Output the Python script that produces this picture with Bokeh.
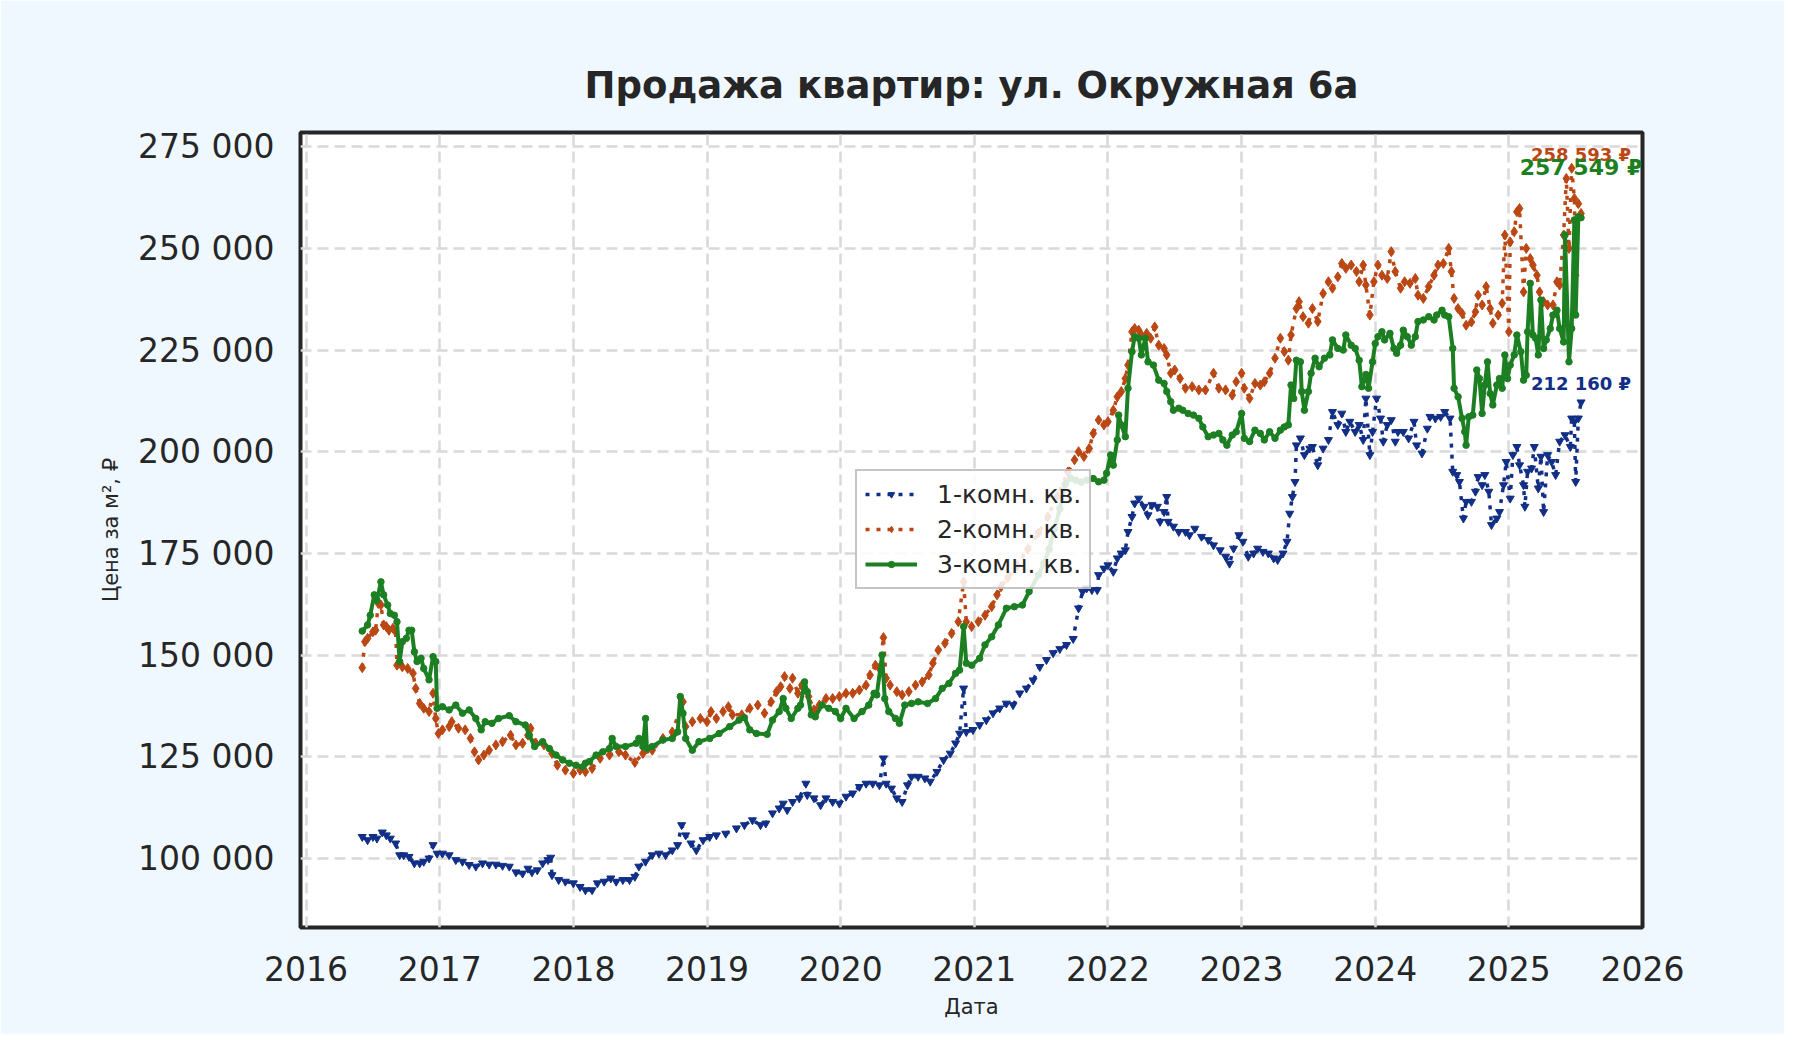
from bokeh.embed import file_html
from bokeh.models import FixedTicker, Label, Range1d
from bokeh.plotting import figure
from bokeh.resources import INLINE

# --- data (fractional year, price per m2, RUB) ---
one_room_year = [
    2016.42, 2016.46, 2016.50, 2016.53, 2016.57, 2016.60, 2016.63, 2016.67, 2016.70, 2016.73,
    2016.77, 2016.81, 2016.85, 2016.88, 2016.92, 2016.95, 2016.98, 2017.02, 2017.07, 2017.12,
    2017.17, 2017.22, 2017.27, 2017.32, 2017.37, 2017.42, 2017.47, 2017.52, 2017.57, 2017.62,
    2017.66, 2017.69, 2017.73, 2017.77, 2017.81, 2017.83, 2017.84, 2017.89, 2017.94, 2018.00,
    2018.05, 2018.09, 2018.14, 2018.18, 2018.23, 2018.28, 2018.32, 2018.37, 2018.42, 2018.46,
    2018.49, 2018.54, 2018.59, 2018.64, 2018.69, 2018.74, 2018.78, 2018.81, 2018.84, 2018.88,
    2018.92, 2018.97, 2019.02, 2019.07, 2019.14, 2019.22, 2019.28, 2019.34, 2019.40, 2019.44,
    2019.49, 2019.54, 2019.57, 2019.60, 2019.64, 2019.69, 2019.74, 2019.75, 2019.80, 2019.85,
    2019.89, 2019.94, 2019.99, 2020.04, 2020.09, 2020.14, 2020.19, 2020.24, 2020.29, 2020.32,
    2020.34, 2020.38, 2020.42, 2020.46, 2020.50, 2020.53, 2020.58, 2020.63, 2020.67, 2020.72,
    2020.77, 2020.82, 2020.86, 2020.89, 2020.92, 2020.94, 2020.99, 2021.04, 2021.09, 2021.14,
    2021.19, 2021.24, 2021.29, 2021.34, 2021.39, 2021.44, 2021.49, 2021.54, 2021.59, 2021.64,
    2021.69, 2021.74, 2021.78, 2021.81, 2021.84, 2021.88, 2021.92, 2021.93, 2021.97, 2022.00,
    2022.04, 2022.07, 2022.10, 2022.13, 2022.15, 2022.18, 2022.20, 2022.23, 2022.27, 2022.30,
    2022.33, 2022.37, 2022.39, 2022.42, 2022.44, 2022.45, 2022.49, 2022.53, 2022.58, 2022.61,
    2022.65, 2022.70, 2022.75, 2022.79, 2022.84, 2022.88, 2022.91, 2022.94, 2022.98, 2023.01,
    2023.05, 2023.09, 2023.12, 2023.16, 2023.20, 2023.24, 2023.27, 2023.31, 2023.34, 2023.36,
    2023.38, 2023.40, 2023.41, 2023.44, 2023.47, 2023.51, 2023.53, 2023.57, 2023.61, 2023.65,
    2023.68, 2023.72, 2023.75, 2023.78, 2023.81, 2023.85, 2023.88, 2023.91, 2023.93, 2023.96,
    2023.98, 2024.01, 2024.04, 2024.06, 2024.09, 2024.12, 2024.15, 2024.17, 2024.21, 2024.25,
    2024.29, 2024.31, 2024.35, 2024.39, 2024.41, 2024.45, 2024.49, 2024.52, 2024.56, 2024.58,
    2024.61, 2024.63, 2024.66, 2024.68, 2024.72, 2024.75, 2024.77, 2024.80, 2024.82, 2024.85,
    2024.87, 2024.91, 2024.93, 2024.96, 2024.98, 2025.01, 2025.03, 2025.06, 2025.08, 2025.11,
    2025.12, 2025.14, 2025.17, 2025.19, 2025.22, 2025.24, 2025.26, 2025.29, 2025.32, 2025.35,
    2025.38, 2025.42, 2025.46, 2025.47, 2025.49, 2025.50, 2025.52, 2025.54,
]
one_room_price = [
    105300, 104500, 105300, 104900, 106400, 105700, 104900, 103700, 100800, 100800,
    100400, 98800, 98800, 99200, 100000, 103300, 101200, 101200, 100800, 99600,
    99200, 98400, 98000, 98800, 98500, 98500, 98200, 98000, 96600, 96300,
    97500, 96600, 97100, 98800, 99600, 100200, 95900, 94700, 94300, 93900,
    93000, 92200, 92200, 93900, 94300, 95100, 94300, 94700, 94700, 95500,
    98000, 99200, 100800, 101200, 100800, 102000, 103300, 108200, 105700, 103700,
    102000, 104500, 105300, 105700, 106100, 107400, 108200, 109400, 108200, 108600,
    111100, 112300, 113500, 111900, 113900, 114800, 118400, 115600, 114800, 113100,
    114800, 113900, 113500, 115200, 116000, 117600, 118400, 118400, 118000, 124600,
    118400, 117200, 114800, 113900, 118000, 120100, 120100, 119700, 118900, 121300,
    124200, 125800, 128300, 130700, 141800, 131100, 131600, 132800, 134000, 135700,
    136900, 138100, 137700, 140600, 141800, 143800, 147100, 148800, 150500, 151500,
    152500, 154000, 161500, 165600, 166400, 166000, 166000, 169700, 171300, 172100,
    170500, 173800, 175000, 175800, 180300, 184000, 187300, 188500, 186500, 184400,
    186900, 186500, 182800, 185200, 188900, 182800, 181600, 180300, 180300, 179500,
    181100, 179100, 178300, 177000, 175800, 174200, 172500, 176200, 179500, 177900,
    174200, 175000, 176200, 175400, 175000, 173800, 173400, 175000, 177900, 184800,
    188900, 192600, 201600, 203300, 199200, 200800, 201200, 196700, 200800, 202900,
    209800, 206600, 209400, 204900, 207400, 204900, 206600, 202900, 213100, 199200,
    204900, 213100, 208200, 202500, 206600, 207800, 202500, 204900, 204900, 203300,
    207400, 201600, 199600, 205700, 208600, 208200, 208600, 209800, 208200, 195100,
    194300, 192600, 183600, 187700, 187700, 190200, 193800, 191800, 194300, 190200,
    182000, 183600, 185200, 191800, 197500, 188500, 199200, 201200, 196700, 191800,
    186500, 195100, 195900, 201200, 191000, 198800, 185200, 199200, 197500, 194300,
    202500, 204100, 201200, 208200, 207400, 192600, 208200, 212160,
]

two_room_year = [
    2016.42, 2016.44, 2016.46, 2016.50, 2016.52, 2016.54, 2016.56, 2016.58, 2016.60, 2016.62,
    2016.65, 2016.67, 2016.68, 2016.72, 2016.76, 2016.80, 2016.82, 2016.85, 2016.88, 2016.92,
    2016.95, 2016.97, 2016.99, 2017.02, 2017.07, 2017.09, 2017.14, 2017.19, 2017.23, 2017.26,
    2017.29, 2017.33, 2017.37, 2017.42, 2017.47, 2017.53, 2017.57, 2017.62, 2017.66, 2017.68,
    2017.72, 2017.78, 2017.84, 2017.88, 2017.94, 2018.00, 2018.05, 2018.09, 2018.14, 2018.20,
    2018.27, 2018.34, 2018.39, 2018.46, 2018.52, 2018.59, 2018.67, 2018.74, 2018.82, 2018.84,
    2018.89, 2018.95, 2019.00, 2019.03, 2019.07, 2019.12, 2019.16, 2019.19, 2019.26, 2019.32,
    2019.38, 2019.43, 2019.48, 2019.52, 2019.55, 2019.58, 2019.62, 2019.64, 2019.68, 2019.71,
    2019.76, 2019.80, 2019.84, 2019.89, 2019.94, 2019.99, 2020.04, 2020.09, 2020.14, 2020.19,
    2020.22, 2020.26, 2020.29, 2020.32, 2020.34, 2020.37, 2020.42, 2020.46, 2020.51, 2020.56,
    2020.61, 2020.66, 2020.69, 2020.73, 2020.78, 2020.83, 2020.88, 2020.92, 2020.94, 2020.98,
    2021.03, 2021.08, 2021.13, 2021.17, 2021.20, 2021.25, 2021.32, 2021.40, 2021.48, 2021.55,
    2021.62, 2021.70, 2021.75, 2021.78, 2021.82, 2021.86, 2021.89, 2021.93, 2021.97, 2022.00,
    2022.04, 2022.07, 2022.10, 2022.13, 2022.15, 2022.18, 2022.20, 2022.23, 2022.25, 2022.29,
    2022.32, 2022.35, 2022.38, 2022.42, 2022.44, 2022.47, 2022.50, 2022.54, 2022.58, 2022.63,
    2022.68, 2022.73, 2022.79, 2022.83, 2022.88, 2022.93, 2022.96, 2023.00, 2023.02, 2023.06,
    2023.10, 2023.14, 2023.17, 2023.21, 2023.25, 2023.29, 2023.32, 2023.35, 2023.37, 2023.41,
    2023.43, 2023.46, 2023.50, 2023.53, 2023.57, 2023.61, 2023.65, 2023.68, 2023.72, 2023.75,
    2023.78, 2023.82, 2023.86, 2023.88, 2023.91, 2023.93, 2023.96, 2023.99, 2024.02, 2024.05,
    2024.09, 2024.12, 2024.15, 2024.19, 2024.22, 2024.26, 2024.30, 2024.32, 2024.36, 2024.40,
    2024.44, 2024.47, 2024.51, 2024.55, 2024.57, 2024.59, 2024.62, 2024.65, 2024.68, 2024.72,
    2024.75, 2024.77, 2024.80, 2024.83, 2024.86, 2024.88, 2024.92, 2024.95, 2024.97, 2025.00,
    2025.01, 2025.04, 2025.06, 2025.08, 2025.11, 2025.13, 2025.16, 2025.18, 2025.21, 2025.23,
    2025.26, 2025.29, 2025.33, 2025.36, 2025.38, 2025.41, 2025.43, 2025.45, 2025.47, 2025.49,
    2025.50, 2025.52, 2025.54,
]
two_room_price = [
    146900, 153300, 154100, 155700, 156100, 162700, 162300, 157400, 157000, 156100,
    156600, 155700, 147500, 147100, 146700, 145500, 141800, 138100, 136900, 136100,
    140600, 134400, 130700, 131600, 132400, 133600, 132000, 131600, 129500, 126200,
    124200, 125400, 126600, 127900, 128700, 130300, 127900, 128300, 130300, 132000,
    128300, 127900, 125800, 122900, 121700, 120900, 121700, 121300, 122100, 124600,
    125400, 126200, 125400, 123600, 125800, 126600, 129500, 131100, 138500, 132400,
    133600, 134400, 133600, 136100, 134400, 136100, 137300, 135300, 135300, 136900,
    137700, 135700, 138500, 141000, 142200, 144700, 141800, 144300, 140600, 142600,
    139800, 136500, 137700, 139300, 139300, 139800, 140600, 140600, 141400, 142600,
    145100, 147500, 146700, 154300, 144300, 142600, 141000, 140200, 141000, 142600,
    143400, 145100, 148000, 151200, 152900, 155300, 158200, 168000, 158200, 157000,
    158200, 159800, 161900, 164800, 166800, 169000, 172000, 176000, 180000, 184000,
    189000, 195000, 198000, 200000, 198800, 200800, 204500, 207800, 206600, 207400,
    210200, 213500, 214800, 218000, 221300, 229500, 230300, 229900, 228700, 229100,
    227900, 230700, 226200, 225400, 223800, 219300, 220100, 218000, 215600, 216000,
    215200, 215200, 219300, 215600, 215200, 213900, 217200, 219300, 215600, 213100,
    216800, 216400, 217200, 219300, 223000, 227900, 224600, 222500, 228700, 235200,
    236900, 233200, 231600, 235200, 232000, 238900, 241800, 240200, 243000, 246300,
    245100, 245900, 244300, 241800, 245900, 241000, 233600, 241800, 245900, 243400,
    242600, 249200, 244300, 240200, 241800, 241400, 242600, 238500, 237700, 240600,
    243400, 245900, 246300, 250000, 244300, 237700, 235200, 234000, 231100, 231900,
    234400, 238500, 236100, 240600, 235200, 231600, 233600, 236500, 253300, 229500,
    251600, 254100, 259000, 259800, 239300, 250000, 247500, 245900, 243400, 239300,
    236900, 236100, 236100, 241800, 241000, 253300, 267200, 250000, 269700, 262300,
    243400, 261000, 258593,
]

three_room_year = [
    2016.42, 2016.46, 2016.48, 2016.51, 2016.53, 2016.56, 2016.58, 2016.61, 2016.63, 2016.66,
    2016.68, 2016.70, 2016.72, 2016.75, 2016.77, 2016.79, 2016.81, 2016.83, 2016.86, 2016.88,
    2016.92, 2016.95, 2016.97, 2016.98, 2017.02, 2017.07, 2017.12, 2017.17, 2017.22, 2017.27,
    2017.31, 2017.34, 2017.39, 2017.44, 2017.52, 2017.57, 2017.64, 2017.67, 2017.71, 2017.77,
    2017.82, 2017.87, 2017.92, 2017.97, 2018.02, 2018.07, 2018.09, 2018.12, 2018.17, 2018.22,
    2018.27, 2018.29, 2018.32, 2018.39, 2018.47, 2018.49, 2018.52, 2018.54, 2018.55, 2018.59,
    2018.67, 2018.74, 2018.78, 2018.80, 2018.82, 2018.84, 2018.89, 2018.94, 2019.02, 2019.09,
    2019.17, 2019.24, 2019.28, 2019.32, 2019.37, 2019.45, 2019.49, 2019.54, 2019.57, 2019.59,
    2019.63, 2019.68, 2019.70, 2019.73, 2019.75, 2019.78, 2019.81, 2019.86, 2019.91, 2019.96,
    2020.00, 2020.04, 2020.10, 2020.16, 2020.21, 2020.25, 2020.27, 2020.31, 2020.33, 2020.36,
    2020.41, 2020.44, 2020.48, 2020.53, 2020.58, 2020.65, 2020.71, 2020.76, 2020.81, 2020.86,
    2020.89, 2020.92, 2020.94, 2020.98, 2021.04, 2021.08, 2021.13, 2021.18, 2021.24, 2021.30,
    2021.36, 2021.41, 2021.48, 2021.52, 2021.56, 2021.60, 2021.64, 2021.68, 2021.72, 2021.76,
    2021.80, 2021.84, 2021.89, 2021.93, 2021.97, 2021.99, 2022.02, 2022.04, 2022.07, 2022.08,
    2022.10, 2022.13, 2022.15, 2022.18, 2022.20, 2022.23, 2022.25, 2022.28, 2022.30, 2022.34,
    2022.38, 2022.42, 2022.44, 2022.47, 2022.49, 2022.53, 2022.56, 2022.60, 2022.64, 2022.68,
    2022.71, 2022.75, 2022.79, 2022.83, 2022.86, 2022.89, 2022.93, 2022.96, 2023.00, 2023.02,
    2023.06, 2023.10, 2023.14, 2023.17, 2023.21, 2023.25, 2023.29, 2023.32, 2023.35, 2023.37,
    2023.39, 2023.41, 2023.44, 2023.45, 2023.47, 2023.50, 2023.52, 2023.55, 2023.58, 2023.62,
    2023.66, 2023.68, 2023.72, 2023.76, 2023.78, 2023.82, 2023.85, 2023.88, 2023.90, 2023.93,
    2023.95, 2023.98, 2024.00, 2024.02, 2024.05, 2024.07, 2024.11, 2024.14, 2024.16, 2024.19,
    2024.21, 2024.24, 2024.27, 2024.30, 2024.32, 2024.36, 2024.40, 2024.44, 2024.46, 2024.50,
    2024.52, 2024.55, 2024.58, 2024.59, 2024.62, 2024.65, 2024.67, 2024.68, 2024.70, 2024.73,
    2024.76, 2024.78, 2024.80, 2024.82, 2024.84, 2024.86, 2024.88, 2024.91, 2024.93, 2024.95,
    2024.97, 2024.99, 2025.01, 2025.04, 2025.06, 2025.09, 2025.11, 2025.13, 2025.14, 2025.16,
    2025.18, 2025.20, 2025.22, 2025.24, 2025.26, 2025.28, 2025.31, 2025.33, 2025.36, 2025.38,
    2025.41, 2025.42, 2025.45, 2025.47, 2025.49, 2025.50, 2025.52, 2025.54,
]
three_room_price = [
    155900, 157400, 159800, 164800, 163500, 168000, 164800, 162300, 160200, 159800,
    158200, 148400, 153300, 154100, 156100, 156100, 150800, 148400, 149200, 146700,
    143900, 149600, 148400, 136900, 137300, 136500, 137700, 135700, 136500, 134400,
    131600, 133600, 133200, 134400, 135100, 133600, 132800, 130300, 127500, 128700,
    127000, 125400, 124200, 123400, 122900, 122500, 123400, 123800, 125400, 126200,
    127000, 129500, 127500, 127500, 128300, 129500, 127500, 134400, 127000, 127500,
    129100, 129500, 131100, 139800, 135700, 129500, 126600, 128700, 129500, 130700,
    132400, 134000, 134600, 131600, 130700, 130500, 134000, 136100, 139300, 136900,
    134400, 136900, 137700, 143400, 141000, 135300, 134800, 137700, 136900, 136100,
    134400, 136900, 134400, 136100, 137700, 140600, 140200, 150000, 139300, 136100,
    134400, 133200, 137700, 138100, 138500, 138100, 139300, 141800, 143000, 145500,
    146300, 157000, 148000, 147500, 149200, 152500, 154500, 157400, 161500, 161900,
    162300, 165600, 169700, 172500, 176000, 181000, 186000, 192000, 193500, 193000,
    192500, 193000, 193400, 192600, 193000, 194700, 199200, 196700, 202900, 209000,
    206600, 203700, 215600, 224600, 228300, 227900, 223800, 227900, 222100, 221300,
    217600, 216800, 214800, 212300, 210200, 210700, 210200, 209400, 209000, 208200,
    206100, 203700, 204100, 204500, 202900, 201600, 204100, 204900, 209400, 203300,
    202500, 205300, 204500, 202900, 204900, 203300, 205300, 206100, 206600, 216400,
    213100, 222500, 222100, 214800, 210200, 214800, 219300, 223000, 220900, 223000,
    223800, 227500, 225400, 225000, 228700, 226200, 225400, 222500, 216000, 219000,
    215600, 222100, 226600, 228300, 229500, 227500, 229100, 225400, 224200, 226200,
    229900, 228300, 226200, 228300, 232000, 232400, 233200, 232400, 233600, 234800,
    233600, 233200, 225400, 215600, 213500, 208200, 204900, 201600, 208600, 209000,
    220100, 218000, 209400, 216400, 222100, 214300, 211500, 216400, 218000, 215600,
    223800, 218000, 221300, 223800, 228700, 224600, 217600, 218800, 229500, 241400,
    228700, 227900, 223800, 237300, 225400, 227500, 230300, 233600, 234800, 230300,
    227000, 253300, 222100, 230300, 257000, 233600, 257800, 257549,
]

year_ticks = list(range(2016, 2027))
price_ticks = [100000, 125000, 150000, 175000, 200000, 225000, 250000, 275000]

FONT = "DejaVu Sans"
INK = "#262626"

p = figure(
    width=1784,
    height=1034,
    output_backend="svg",
    toolbar_location=None,
    title="Продажа квартир: ул. Окружная 6а",
    x_range=Range1d(2015.958, 2026.0),
    y_range=Range1d(83000, 278500),
    min_border_left=300,
    min_border_right=142,
    min_border_top=132,
    min_border_bottom=107,
)
p.border_fill_color = "#f0f8ff"
p.background_fill_color = "white"
p.outline_line_color = INK
p.outline_line_width = 4

p.title.text_font = FONT
p.title.text_font_size = "37px"
p.title.text_font_style = "bold"
p.title.text_color = INK
p.title.align = "center"
p.title.standoff = 51

# axes
p.xaxis.ticker = FixedTicker(ticks=year_ticks)
p.yaxis.ticker = FixedTicker(ticks=price_ticks)
p.yaxis.major_label_overrides = {t: f"{t:,}".replace(",", " ") for t in price_ticks}
p.xaxis.major_label_overrides = {t: str(t) for t in year_ticks}
p.xaxis.axis_label = "Дата"
p.yaxis.axis_label = "Цена за м², ₽"
for ax in (p.xaxis, p.yaxis):
    ax.axis_line_color = None
    ax.major_tick_line_color = None
    ax.minor_tick_line_color = None
    ax.major_tick_out = 0
    ax.major_tick_in = 0
    ax.major_label_text_font = FONT
    ax.major_label_text_font_size = "33px"
    ax.major_label_text_color = INK
    ax.axis_label_text_font = FONT
    ax.axis_label_text_font_size = "21px"
    ax.axis_label_text_font_style = "normal"
    ax.axis_label_text_color = INK
p.xaxis.major_label_standoff = 28
p.xaxis.axis_label_standoff = 11
p.yaxis.major_label_standoff = 26
p.yaxis.axis_label_standoff = 12

for g in (p.xgrid, p.ygrid):
    g.grid_line_color = "#d9d9d9"
    g.grid_line_width = 2.5
    g.grid_line_dash = "11 6"

# series: label, x, y, colour, marker, marker size, dash, line width
series = [
    ("1-комн. кв.", one_room_year, one_room_price, "#112f86", "inverted_triangle", 8, "4 7", 3.5),
    ("2-комн. кв.", two_room_year, two_room_price, "#bb4814", "diamond", 10, "4 7", 3.5),
    ("3-комн. кв.", three_room_year, three_room_price, "#1c7f22", "circle", 6.5, "solid", 4),
]
for label, xs, ys, color, marker, size, dash, lw in series:
    p.line(xs, ys, line_color=color, line_width=lw, line_dash=dash, legend_label=label)
    p.scatter(xs, ys, marker=marker, size=size, color=color, legend_label=label)

legend = p.legend[0]
legend.location = (555, 338)
legend.label_text_font = FONT
legend.label_text_font_size = "25px"
legend.label_text_color = INK
legend.glyph_width = 52
legend.glyph_height = 16
legend.label_height = 30
legend.spacing = 5
legend.padding = 8
legend.label_standoff = 20
legend.border_line_color = "#8c8c8c"
legend.border_line_width = 2.5
legend.background_fill_color = "white"
legend.background_fill_alpha = 0.85

# last values
last_labels = [
    (one_room_year[-1], one_room_price[-1], "#112f86", "18px", 19),
    (two_room_year[-1], two_room_price[-1], "#bb4814", "18px", 59),
    (three_room_year[-1], three_room_price[-1], "#1c7f22", "22px", 50),
]
for x, y, color, fsize, dy in last_labels:
    p.add_layout(Label(
        x=x, y=y, y_offset=dy,
        text=f"{y:,}".replace(",", " ") + " ₽",
        text_font=FONT, text_font_size=fsize, text_font_style="bold",
        text_color=color, text_align="center", text_baseline="middle",
    ))

open("out.html", "w").write(file_html(p, INLINE))
